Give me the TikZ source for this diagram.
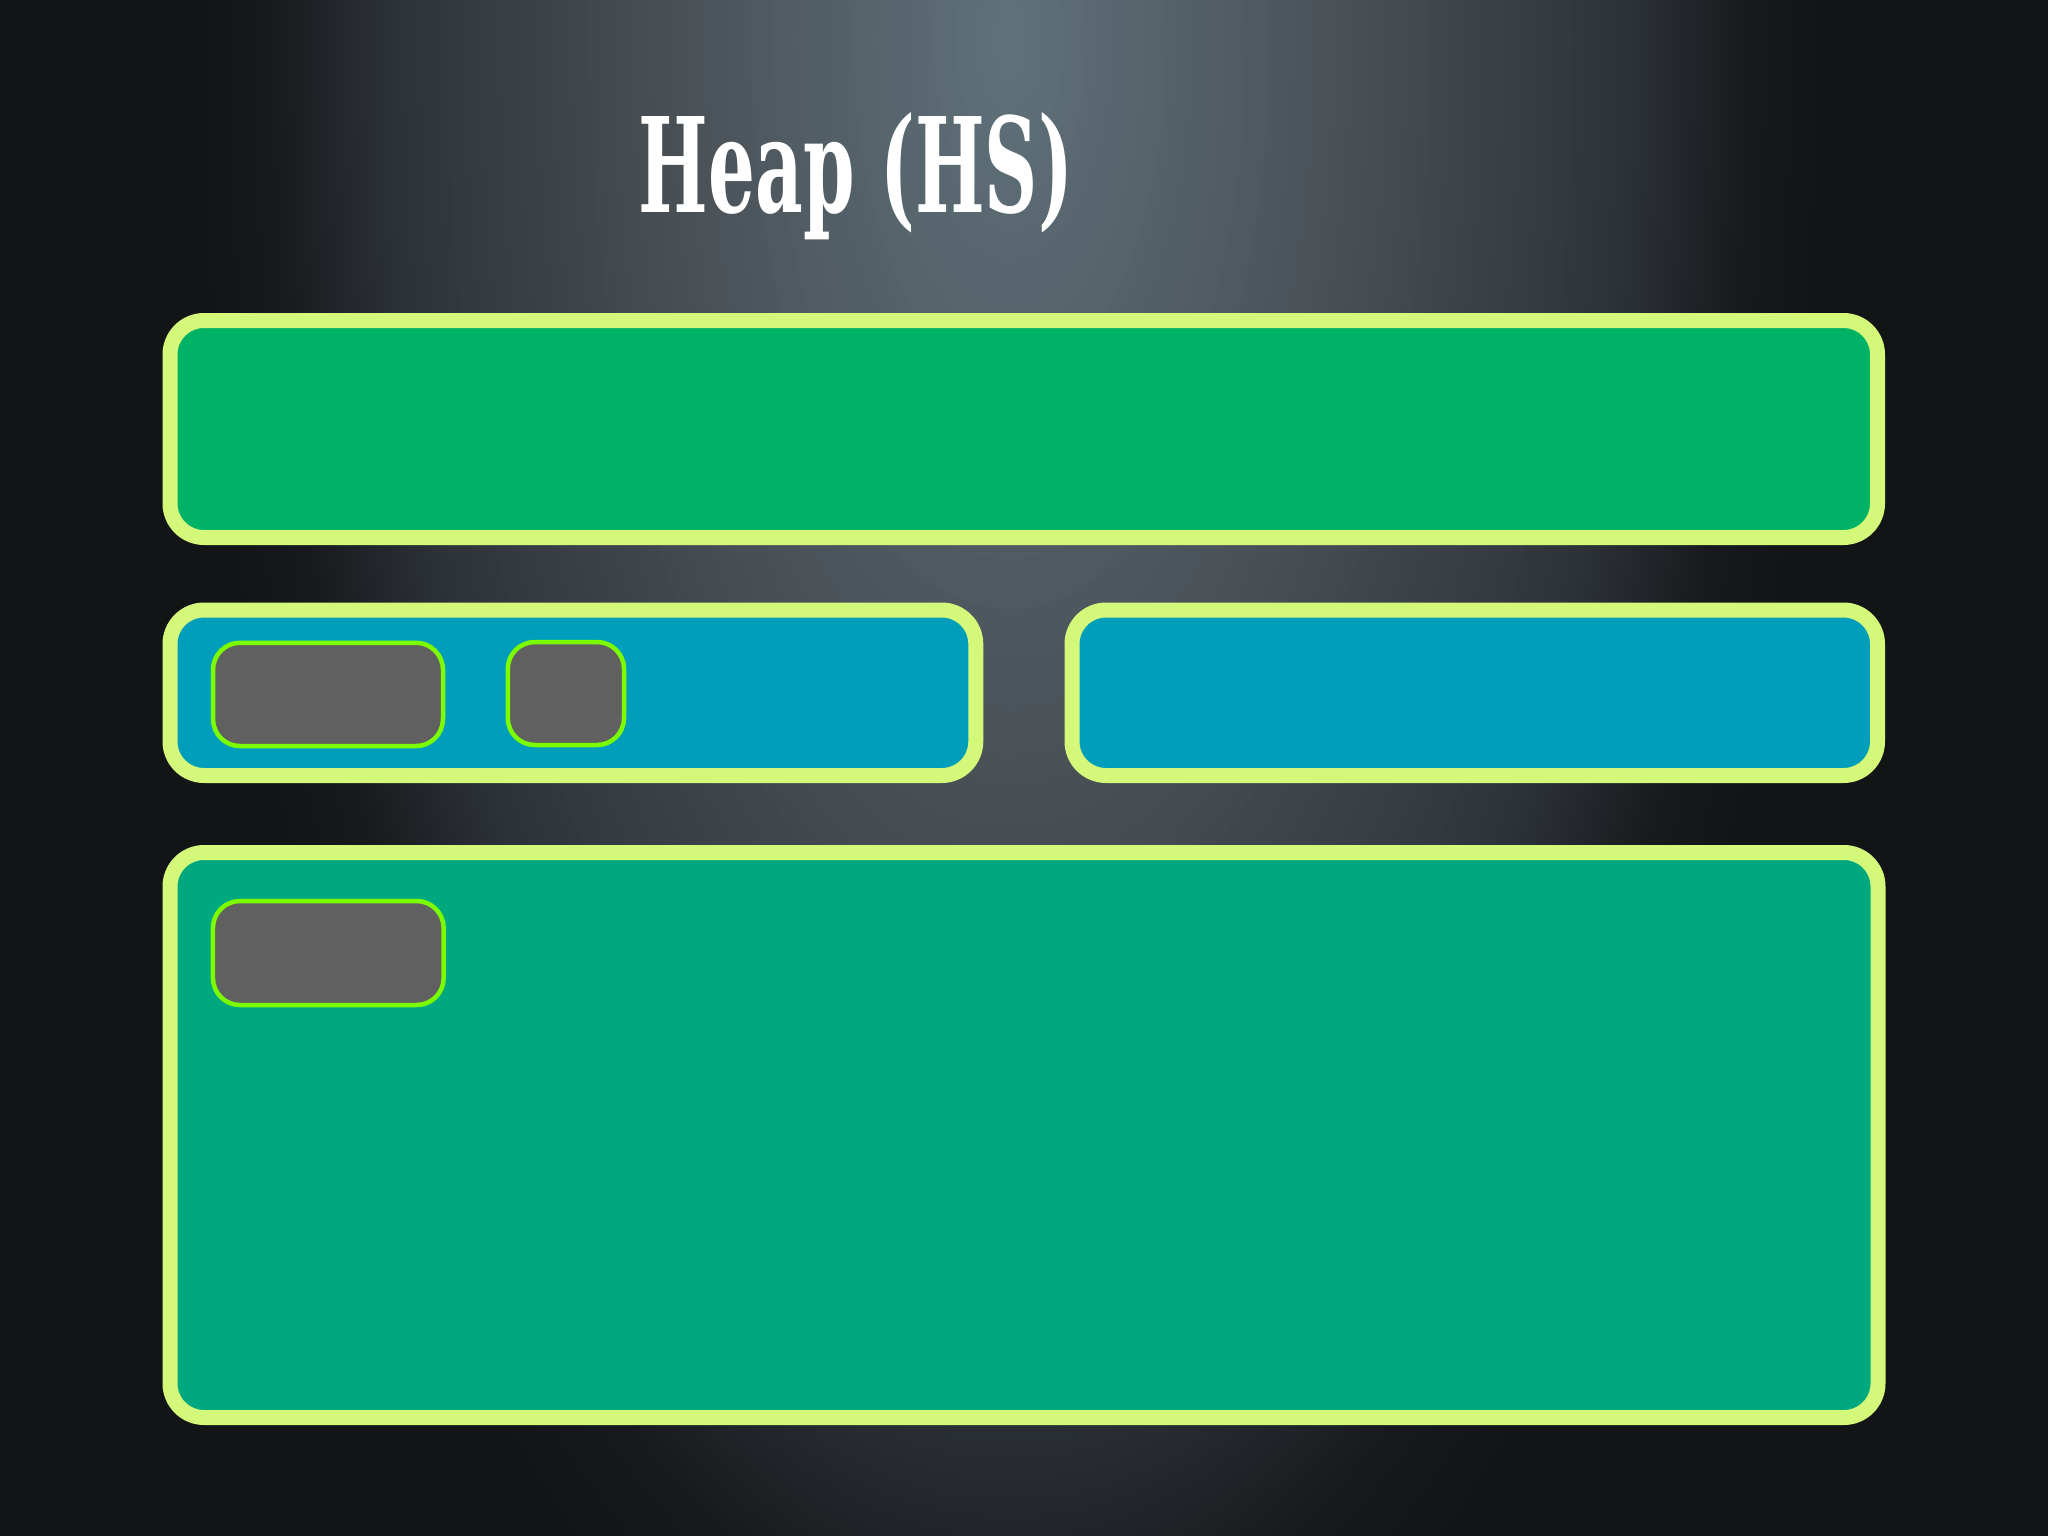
\documentclass[tikz,border=0pt]{standalone}
\usepackage{fontspec}
\newfontfamily\titlefont{DejaVu Serif}
\definecolor{bgdark}{RGB}{18,20,22}
\definecolor{gA}{RGB}{24,27,30}
\definecolor{gB}{RGB}{46,51,56}
\definecolor{gC}{RGB}{74,82,88}
\definecolor{gD}{RGB}{95,113,122}
\definecolor{rimcol}{RGB}{212,249,122}
\definecolor{topfill}{RGB}{0,178,102}
\definecolor{midfill}{RGB}{0,158,186}
\definecolor{lowfill}{RGB}{0,168,128}
\definecolor{cellfill}{RGB}{96,96,96}
\definecolor{celledge}{RGB}{124,252,0}
\tikzset{
 bigbox/.style={draw=rimcol, line width=15pt, rounded corners=34pt, rectangle, inner sep=0pt, outer sep=0pt},
 cellbox/.style={draw=celledge, fill=cellfill, line width=4.5pt, rounded corners=27pt, rectangle, inner sep=0pt, outer sep=0pt},
 glow/.style={draw=none},
}
\begin{document}
\begin{tikzpicture}[x=1pt,y=-1pt]
\useasboundingbox (0,0) rectangle (2048,1536);
\fill[bgdark] (0,0) rectangle (2048,1536);
\begin{scope}
\clip (0,0) rectangle (2048,1536);
\foreach \i in {0,...,6}{
  \pgfmathsetmacro\r{1.0-0.1*\i/6}
  \pgfmathsetmacro\t{100*\i/6}
  \fill[glow, gA!\t!bgdark] (1010,40) ellipse [x radius=820*\r, y radius=1800*\r];
}
\foreach \i in {1,...,24}{
  \pgfmathsetmacro\r{0.9-0.15*\i/24}
  \pgfmathsetmacro\t{100*\i/24}
  \fill[glow, gB!\t!gA] (1010,40) ellipse [x radius=820*\r, y radius=1800*\r];
}
\foreach \i in {1,...,28}{
  \pgfmathsetmacro\r{0.75-0.35*\i/28}
  \pgfmathsetmacro\t{100*\i/28}
  \fill[glow, gC!\t!gB] (1010,40) ellipse [x radius=820*\r, y radius=1800*\r];
}
\foreach \i in {1,...,28}{
  \pgfmathsetmacro\r{0.4-0.39*\i/28}
  \pgfmathsetmacro\t{100*\i/28}
  \fill[glow, gD!\t!gC] (1010,40) ellipse [x radius=820*\r, y radius=1800*\r];
}
\end{scope}
\node[anchor=base, inner sep=0pt, text=white] (title) at (856,212)
  {\resizebox{434pt}{100pt}{\titlefont\bfseries Heap (HS)}};
\node[bigbox, fill=topfill, minimum width=1707.5pt, minimum height=217pt] (top) at (1023.75,429) {};
\node[bigbox, fill=midfill, minimum width=805.8pt, minimum height=165.5pt] (midl) at (572.9,692.75) {};
\node[bigbox, fill=midfill, minimum width=805.5pt, minimum height=165.5pt] (midr) at (1474.75,692.75) {};
\node[bigbox, fill=lowfill, minimum width=1708pt, minimum height=565pt] (low) at (1024,1135) {};
\node[cellbox, minimum width=230pt, minimum height=103.3pt] (cella) at (328,694.4) {};
\node[cellbox, minimum width=116.3pt, minimum height=103pt] (cellb) at (565.9,693.5) {};
\node[cellbox, minimum width=230.7pt, minimum height=104pt] (cellc) at (328.3,953) {};
\end{tikzpicture}
\end{document}
